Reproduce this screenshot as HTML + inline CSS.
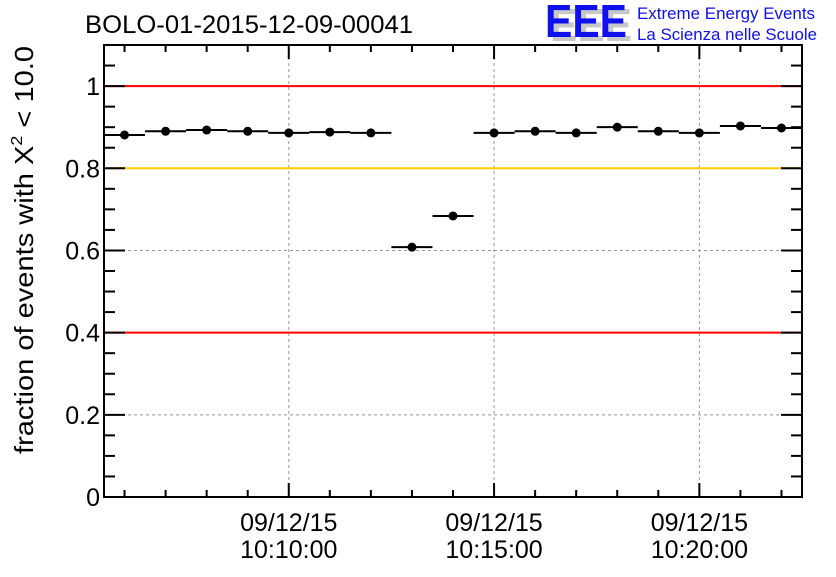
<!DOCTYPE html>
<html><head><meta charset="utf-8"><style>
body{margin:0;background:#fff;}
svg text{font-family:"Liberation Sans",sans-serif;}
</style></head><body>
<svg width="836" height="572" viewBox="0 0 836 572">
<rect width="836" height="572" fill="#fff"/>
<text x="85" y="33" font-size="25" textLength="328" lengthAdjust="spacingAndGlyphs">BOLO-01-2015-12-09-00041</text>
<g>
<text x="550" y="41" font-size="46" font-weight="bold" fill="#c8c8c8" textLength="82" lengthAdjust="spacingAndGlyphs">EEE</text>
<text x="545" y="37" font-size="46" font-weight="bold" fill="#1010ee" textLength="82" lengthAdjust="spacingAndGlyphs">EEE</text>
<text x="637" y="19" font-size="17" fill="#1010ee" textLength="178" lengthAdjust="spacingAndGlyphs">Extreme Energy Events</text>
<text x="637" y="40" font-size="17" fill="#1010ee" textLength="180" lengthAdjust="spacingAndGlyphs">La Scienza nelle Scuole</text>
</g>
<text transform="translate(33,250) rotate(-90)" font-size="26" text-anchor="middle" textLength="408" lengthAdjust="spacingAndGlyphs">fraction of events with X<tspan dy="-11" font-size="16">2</tspan><tspan dy="11"> &lt; 10.0</tspan></text>
<g id="grid"></g><g id="lines"></g><g id="axes"></g><g id="marks"></g>
</svg>
<script>
const minutes=[6,7,8,9,10,11,12,13,14,15,16,17,18,19,20,21,22];
const values=[0.881,0.890,0.893,0.890,0.886,0.888,0.886,0.608,0.684,0.886,0.890,0.886,0.900,0.890,0.886,0.903,0.898];
const yTicks=[0,0.2,0.4,0.6,0.8,1];
const yTickLabels=["0","0.2","0.4","0.6","0.8","1"];
const xMajor=[10,15,20];
const xMajorLabels=[["09/12/15","10:10:00"],["09/12/15","10:15:00"],["09/12/15","10:20:00"]];
const refLines=[{v:1,c:"#ff0000"},{v:0.8,c:"#ffcc00"},{v:0.4,c:"#ff0000"}];
const L=104,R=802,T=45,B=497,xmin=5.5,xmax=22.5,ymin=0,ymax=1.1;
const X=m=>L+(m-xmin)/(xmax-xmin)*(R-L);
const Y=v=>B-(v-ymin)/(ymax-ymin)*(B-T);
const NS="http://www.w3.org/2000/svg";
function mk(t,a,p){const e=document.createElementNS(NS,t);for(const k in a)e.setAttribute(k,a[k]);p.appendChild(e);return e;}
const g=document.getElementById('grid'),ln=document.getElementById('lines'),ax=document.getElementById('axes'),mg=document.getElementById('marks');
xMajor.forEach(m=>{const e=mk('line',{x1:X(m),x2:X(m),y1:T,y2:B,stroke:'#999','stroke-dasharray':'3,3'},g);

});
yTicks.forEach(v=>{if(v>0&&v<1.05){const e=mk('line',{x1:L,x2:R,y1:Y(v),y2:Y(v),stroke:'#999','stroke-dasharray':'3,3'},g);

}});
refLines.forEach(r=>{const e=mk('line',{x1:L,x2:R,y1:Y(r.v),y2:Y(r.v),stroke:r.c,'stroke-width':2},ln);

});
const fr=mk('rect',{x:L,y:T,width:R-L,height:B-T,fill:'none',stroke:'#000','stroke-width':2},ax);


for(let v=0;v<=1.1001;v+=0.05){const major=Math.abs(v/0.2-Math.round(v/0.2))<1e-6;const len=major?21:11;
mk('line',{x1:L,x2:L+len,y1:Y(v),y2:Y(v),stroke:'#000','stroke-width':2},ax);
mk('line',{x1:R,x2:R-len,y1:Y(v),y2:Y(v),stroke:'#000','stroke-width':2},ax);}
yTicks.forEach((v,i)=>{const t=mk('text',{x:L-4,y:Y(v)+9,'font-size':25,'text-anchor':'end'},ax);t.textContent=yTickLabels[i];

});
for(let m=6;m<=22;m++){const len=xMajor.includes(m)?14:7;
mk('line',{x1:X(m),x2:X(m),y1:B,y2:B-len,stroke:'#000','stroke-width':2},ax);
mk('line',{x1:X(m),x2:X(m),y1:T,y2:T+len,stroke:'#000','stroke-width':2},ax);}
xMajor.forEach((m,i)=>{[0,1].forEach(j=>{const t=mk('text',{x:X(m),y:531+j*27,'font-size':25,'text-anchor':'middle'},ax);t.textContent=xMajorLabels[i][j];

});});
minutes.forEach((m,i)=>{
const b=mk('line',{x1:X(m-0.5),x2:X(m+0.5),y1:Y(values[i]),y2:Y(values[i]),stroke:'#000','stroke-width':2},mg);


const c=mk('circle',{cx:X(m),cy:Y(values[i]),r:4.5,fill:'#000'},mg);

});
</script>
</body></html>
